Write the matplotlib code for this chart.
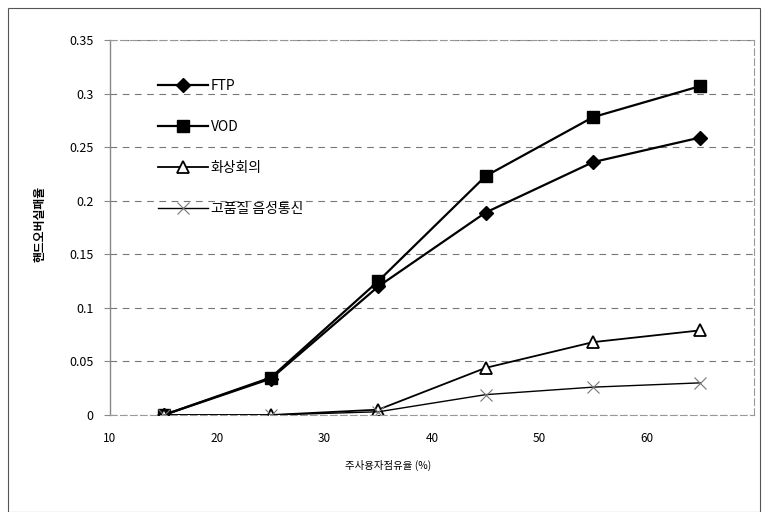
import numpy as np
import matplotlib.pyplot as plt
from matplotlib.patches import Rectangle

plt.rcParams['font.family'] = ['Noto Sans CJK KR', 'DejaVu Sans']

# 주사용자 점유율별 핸드오버 실패율
occupancy = [10, 20, 30, 40, 50, 60]
ftp = [0.0, 0.034, 0.12, 0.189, 0.236, 0.259]
vod = [0.0, 0.035, 0.125, 0.223, 0.278, 0.307]
conf = [0.0, 0.0, 0.005, 0.044, 0.068, 0.079]
voice = [0.0, 0.0, 0.003, 0.019, 0.026, 0.030]
names = ['FTP', 'VOD', '화상회의', '고품질 음성통신']

fig = plt.figure(figsize=(7.68, 5.12), dpi=100)
ax = fig.add_axes([110/768, 1-415/512, (754-110)/768, (415-40)/512])

xs = np.arange(len(occupancy))
ax.plot(xs, ftp, color='black', lw=1.6, marker='D', ms=7, mfc='black', mec='black', label=names[0])
ax.plot(xs, vod, color='black', lw=1.6, marker='s', ms=8, mfc='black', mec='black', label=names[1])
ax.plot(xs, conf, color='black', lw=1.3, marker='^', ms=9, mfc='white', mec='black', mew=1.3, label=names[2])
ax.plot(xs, voice, color='black', lw=1.0, marker='x', ms=8, mec='#777777', mew=0.8, label=names[3])

ax.set_xlim(-0.5, 5.5)
ax.set_ylim(0, 0.35)
ax.set_yticks(np.arange(0, 0.351, 0.05))
ax.set_yticklabels(['0', '0.05', '0.1', '0.15', '0.2', '0.25', '0.3', '0.35'], fontsize=9)
ax.set_xticks(xs - 0.5)
ax.set_xticklabels([str(v) for v in occupancy], fontsize=8.5)
ax.tick_params(axis='x', length=0, pad=12)
ax.tick_params(axis='y', length=4, color='#888888', pad=8)

ax.yaxis.grid(True, ls=(0, (6, 5)), color='#777777', lw=0.8)
for s in ['top', 'right', 'bottom']:
    ax.spines[s].set_linestyle((0, (6, 3)))
    ax.spines[s].set_color('#999999')
    ax.spines[s].set_linewidth(0.8)
ax.spines['left'].set_color('#888888')
ax.spines['left'].set_linewidth(1.0)

ax.legend(loc='upper left', bbox_to_anchor=(0.055, 0.93), frameon=False,
          fontsize=10, labelspacing=1.95, handlelength=3.6, handletextpad=0.2)

fig.text(388/768, 1-465/512, '주사용자점유율 (%)', ha='center', va='center', fontsize=7.5)
fig.text(40/768, 1-224/512, '핸드오버실패율', ha='center', va='center', rotation=90,
         fontsize=8.5, fontweight='bold')

# 바깥 테두리
fig.patches.append(Rectangle((8/768, 0.0), 752/768, 1-8/512, transform=fig.transFigure,
                             fill=False, ec='#555555', lw=0.8))

fig.savefig('out.png', dpi=100)
